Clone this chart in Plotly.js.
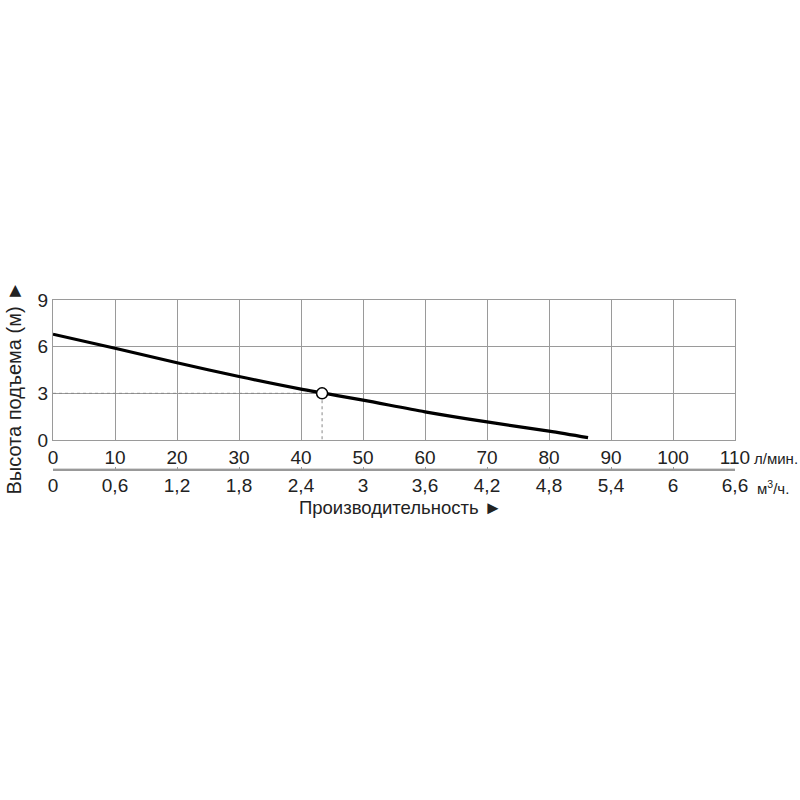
<!DOCTYPE html>
<html><head><meta charset="utf-8">
<script src="https://cdn.plot.ly/plotly-3.0.1.min.js"></script>
<style>body{margin:0;background:#fff}</style>
</head><body>
<div id="chart" style="width:800px;height:800px"></div>
<script>
// Data
const flowLmin = [0, 10, 20, 30, 40, 50, 60, 70, 80, 86.3];
const headM = [6.8, 5.9, 4.97, 4.08, 3.27, 2.56, 1.81, 1.16, 0.57, 0.15];
const opPointX = [43.4];
const opPointY = [3];
const xTicks = [0, 10, 20, 30, 40, 50, 60, 70, 80, 90, 100, 110];
const xTickLabels = ['0','10','20','30','40','50','60','70','80','90','100','110'];
const m3hTickLabels = ['0','0,6','1,2','1,8','2,4','3','3,6','4,2','4,8','5,4','6','6,6'];
const yTicks = [0, 3, 6, 9];
const axisSpan = [0, 110];

const FONT = 'Liberation Sans, Arial, sans-serif';
const GRID = '#9a9a9a';
const TXT = '#222';

const traces = [
  {x: [0, opPointX[0], opPointX[0]], y: [opPointY[0], opPointY[0], 0], mode: 'lines',
   line: {color: '#888', width: 1, dash: 'dot'}, hoverinfo: 'skip', showlegend: false},
  {x: flowLmin, y: headM, mode: 'lines', line: {color: '#000', width: 3.2, shape: 'spline', smoothing: 0.8},
   showlegend: false},
  {x: opPointX, y: opPointY, mode: 'markers',
   marker: {size: 11, color: '#fff', line: {color: '#000', width: 1.5}}, showlegend: false},
  {x: axisSpan, y: [0, 0], xaxis: 'x2', yaxis: 'y2', mode: 'lines', line: {color: '#999', width: 1.5},
   cliponaxis: false, hoverinfo: 'skip', showlegend: false}
];

const layout = {
  width: 800, height: 800,
  paper_bgcolor: '#fff', plot_bgcolor: '#fff',
  margin: {l: 53, r: 65, t: 300, b: 330},
  font: {family: FONT, size: 19, color: TXT},
  xaxis: {range: [0, 110], tickvals: xTicks, ticktext: xTickLabels, showgrid: true, gridcolor: GRID, gridwidth: 1,
          showline: true, linecolor: GRID, mirror: true, zeroline: false, ticks: '', anchor: 'y',
          ticklabelstandoff: 0, tickfont: {family: FONT, size: 19, color: TXT}},
  yaxis: {domain: [0.1765, 1], range: [0, 9], tickvals: yTicks, showgrid: true, gridcolor: GRID, gridwidth: 1,
          showline: true, linecolor: GRID, mirror: true, zeroline: false, ticks: '',
          tickfont: {family: FONT, size: 19, color: TXT}},
  xaxis2: {matches: 'x', anchor: 'y2', range: [0, 110], tickvals: xTicks, ticktext: m3hTickLabels, showgrid: false,
           showline: true, linecolor: '#999', linewidth: 1, ticks: 'inside', ticklen: 3, tickcolor: '#999',
           ticklabelstandoff: -2, zeroline: false, tickfont: {family: FONT, size: 19, color: TXT}},
  yaxis2: {domain: [0, 0.01], visible: false, range: [-1, 1]},
  shapes: [
    {type: 'line', xref: 'paper', yref: 'paper', x0: 0, x1: 1, y0: -0.003, y1: -0.003,
     line: {color: '#999', width: 1}}
  ],
  annotations: [
    {text: 'л/мин.', xref: 'paper', yref: 'paper', x: 1.025, y: 0.07, xanchor: 'left', yanchor: 'middle',
     showarrow: false, font: {family: FONT, size: 15, color: TXT}},
    {text: 'м<sup>3</sup>/ч.', xref: 'paper', yref: 'paper', x: 1.03, y: -0.1, xanchor: 'left', yanchor: 'middle',
     showarrow: false, font: {family: FONT, size: 15, color: TXT}},
    {text: 'Производительность ►', xref: 'paper', yref: 'paper', x: 0.51, y: -0.218, xanchor: 'center', yanchor: 'middle',
     showarrow: false, font: {family: FONT, size: 18.5, color: TXT}},
    {text: 'Высота подъема (м) ►', xref: 'paper', yref: 'paper', x: -0.057, y: 0.48, xanchor: 'center', yanchor: 'middle',
     textangle: -90, showarrow: false, font: {family: FONT, size: 20, color: TXT}}
  ]
};

Plotly.newPlot('chart', traces, layout, {displayModeBar: false, staticPlot: true});
</script>
</body></html>
